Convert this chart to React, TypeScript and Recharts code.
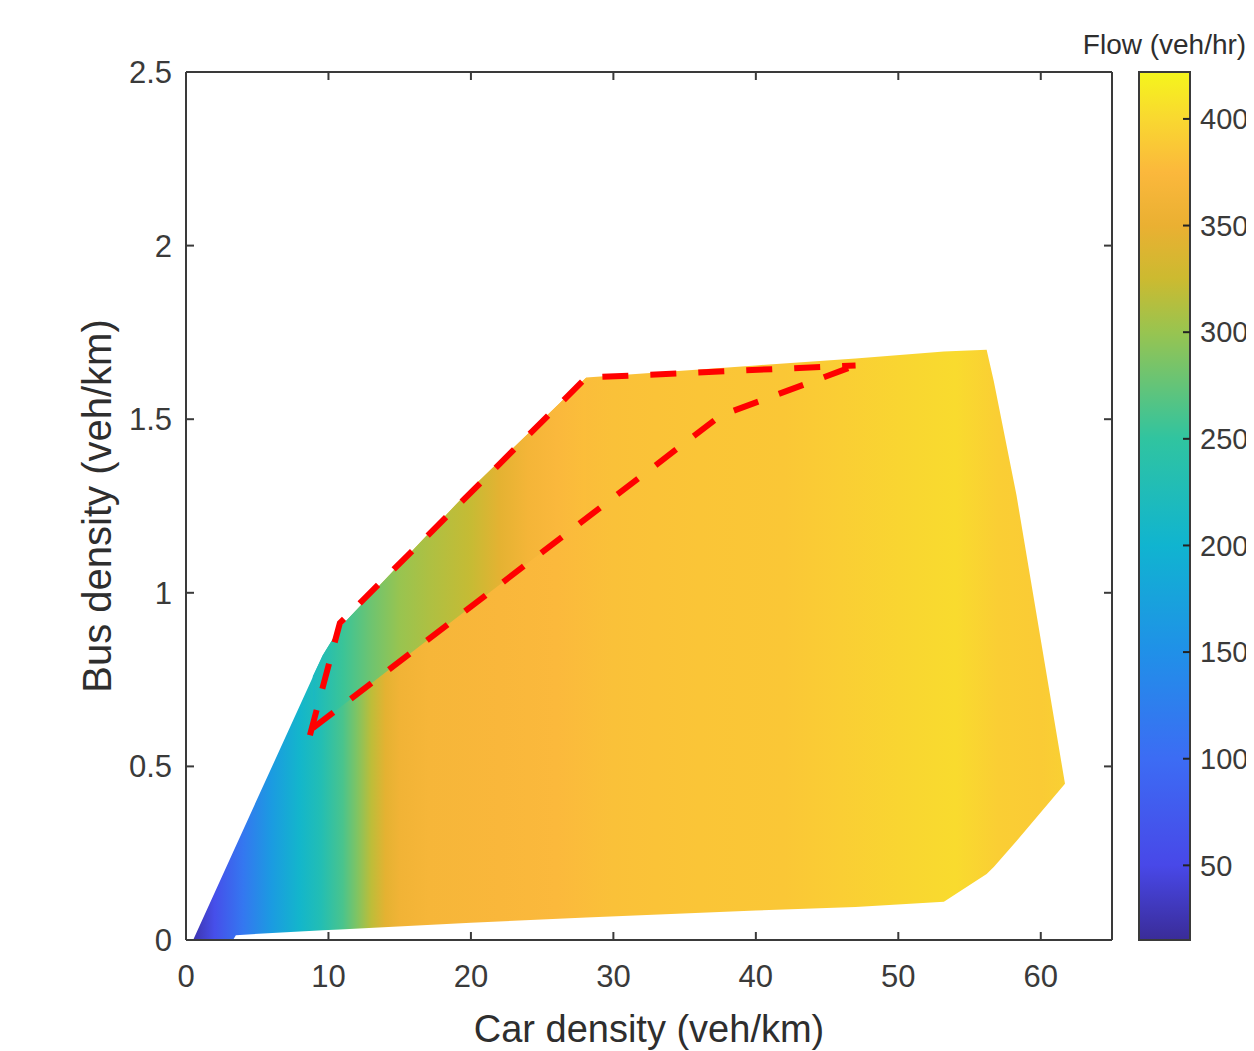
import { ComposedChart, Area, Line, XAxis, YAxis, ReferenceArea } from "recharts";

const carTicks = [0, 10, 20, 30, 40, 50, 60];
const busTicks = [0, 0.5, 1, 1.5, 2, 2.5];
const flowTicks = [50, 100, 150, 200, 250, 300, 350, 400];

// outline of the sampled region: car density with lower / upper bus density
const edgeCar = [0.5, 3.3, 3.5, 9.6, 10.8, 20, 28.1, 40, 47, 53.2, 56.2, 56.7, 58.3, 61.7];
const edgeLow = [0, 0, 0.014, 0.028, 0.03, 0.05, 0.065, 0.085, 0.095, 0.11, 0.19, 0.21, 0.285, 0.45];
const edgeHigh = [0, 0.253, 0.271, 0.82, 0.9, 1.3, 1.62, 1.655, 1.675, 1.695, 1.7, 1.61, 1.28, 0.45];

// flow (veh/hr) across car density, lower part of the region
const flowCar = [0.5, 2, 4, 6, 8, 9.5, 11, 12, 13, 14, 15, 17, 22, 26, 30, 36, 42, 46, 50, 54, 57, 60, 61.7];
const flowVal = [25, 60, 115, 165, 205, 230, 262, 288, 318, 345, 360, 368, 372, 376, 382, 385, 387, 392, 398, 402, 392, 390, 394];

// upper-left wedge (above the inner dashed line), greener
const wedgeCar = [8.9, 9.6, 10.8, 20, 28.1];
const wedgeLow = [0.61, 0.632, 0.67, 0.96, 1.215];
const wedgeHigh = [0.76, 0.82, 0.9, 1.3, 1.62];
const wedgeFlowCar = [8.9, 9.5, 11, 13, 15, 17, 20, 22, 24, 26, 28.1];
const wedgeFlowVal = [215, 228, 255, 280, 300, 310, 322, 345, 365, 374, 380];

// red dashed envelopes
const outerCar = [8.7, 10.8, 28.1, 47];
const outerBus = [0.59, 0.913, 1.62, 1.655];
const innerCar = [8.9, 20, 37.5, 47];
const innerBus = [0.61, 0.96, 1.51, 1.655];

// colormap (parula-like)
const cmapVal = [15, 50, 100, 150, 200, 250, 300, 325, 350, 375, 400, 422];
const cmapCol = ["#3a2c98", "#4848e8", "#3c6cf4", "#2090e8", "#10b4d0", "#30c4a0", "#98c450", "#ccba30", "#eab032", "#fbb83c", "#f9d830", "#f5f51c"];
const flowMin = 15;
const flowMax = 422;

const edgeData = edgeCar.map((car, i) => ({ car, range: [edgeLow[i], edgeHigh[i]] }));
const wedgeData = wedgeCar.map((car, i) => ({ car, range: [wedgeLow[i], wedgeHigh[i]] }));
const outerData = outerCar.map((car, i) => ({ car, bus: outerBus[i] }));
const innerData = innerCar.map((car, i) => ({ car, bus: innerBus[i] }));

function hexRgb(h: string) {
  return [1, 3, 5].map((k) => parseInt(h.slice(k, k + 2), 16));
}

function flowColor(v: number) {
  let i = 0;
  while (i < cmapVal.length - 2 && v > cmapVal[i + 1]) i++;
  const t = Math.max(0, Math.min(1, (v - cmapVal[i]) / (cmapVal[i + 1] - cmapVal[i])));
  const a = hexRgb(cmapCol[i]);
  const b = hexRgb(cmapCol[i + 1]);
  const c = a.map((x, k) => Math.round(x + (b[k] - x) * t));
  return `rgb(${c[0]},${c[1]},${c[2]})`;
}

function stops(cars: number[], vals: number[], lo: number, hi: number) {
  return cars.map((c, i) => (
    <stop key={i} offset={(c - lo) / (hi - lo)} stopColor={flowColor(vals[i])} />
  ));
}

const axisColor = "#3a3a3a";
const font = "'Liberation Sans', Arial, sans-serif";
const noLabel = () => "";

export default function App() {
  return (
    <div style={{ position: "relative", width: 1246, height: 1043, background: "#fff", fontFamily: font }}>
      <div style={{ position: "absolute", left: 0, top: 0 }}>
        <ComposedChart width={1246} height={1043} data={edgeData} margin={{ top: 0, right: 0, bottom: 0, left: 0 }}>
          <defs>
            <linearGradient id="flowFill" x1="0" y1="0" x2="1" y2="0">
              {stops(flowCar, flowVal, edgeCar[0], edgeCar[edgeCar.length - 1])}
            </linearGradient>
            <linearGradient id="wedgeFill" x1="0" y1="0" x2="1" y2="0">
              {stops(wedgeFlowCar, wedgeFlowVal, wedgeCar[0], wedgeCar[wedgeCar.length - 1])}
            </linearGradient>
          </defs>
          <XAxis
            dataKey="car"
            type="number"
            domain={[0, 65]}
            ticks={carTicks}
            interval={0}
            allowDataOverflow
            height={111}
            tickSize={-8}
            tickMargin={33}
            axisLine={{ stroke: axisColor, strokeWidth: 2 }}
            tickLine={{ stroke: axisColor, strokeWidth: 2 }}
            tick={{ fill: axisColor, fontSize: 31 }}
            label={{ value: "Car density (veh/km)", position: "insideBottom", offset: 9, fontSize: 38, fill: "#2e2e2e" }}
          />
          <XAxis
            xAxisId="top"
            dataKey="car"
            orientation="top"
            type="number"
            domain={[0, 65]}
            ticks={carTicks}
            interval={0}
            allowDataOverflow
            height={64}
            tickSize={-8}
            axisLine={{ stroke: axisColor, strokeWidth: 2 }}
            tickLine={{ stroke: axisColor, strokeWidth: 2 }}
            tick={{ fill: "none", fontSize: 1 }}
          />
          <YAxis
            type="number"
            domain={[0, 2.5]}
            ticks={busTicks}
            interval={0}
            allowDataOverflow
            width={178}
            tickSize={-8}
            tickMargin={22}
            axisLine={{ stroke: axisColor, strokeWidth: 2 }}
            tickLine={{ stroke: axisColor, strokeWidth: 2 }}
            tick={{ fill: axisColor, fontSize: 31 }}
            label={{ value: "Bus density (veh/km)", angle: -90, position: "center", fontSize: 40, fill: "#2e2e2e" }}
          />
          <YAxis
            yAxisId="right"
            orientation="right"
            type="number"
            domain={[0, 2.5]}
            ticks={busTicks}
            interval={0}
            allowDataOverflow
            width={142}
            tickSize={-8}
            axisLine={{ stroke: axisColor, strokeWidth: 2 }}
            tickLine={{ stroke: axisColor, strokeWidth: 2 }}
            tickFormatter={noLabel}
          />
          <Area
            dataKey="range"
            type="linear"
            stroke="none"
            fill="url(#flowFill)"
            fillOpacity={1}
            isAnimationActive={false}
            activeDot={false}
          />
          <Area
            data={wedgeData}
            dataKey="range"
            type="linear"
            stroke="none"
            fill="url(#wedgeFill)"
            fillOpacity={1}
            isAnimationActive={false}
            activeDot={false}
          />
          <Line
            data={outerData}
            dataKey="bus"
            type="linear"
            stroke="#ff0000"
            strokeWidth={6}
            strokeDasharray="26 22"
            dot={false}
            activeDot={false}
            isAnimationActive={false}
          />
          <Line
            data={innerData}
            dataKey="bus"
            type="linear"
            stroke="#ff0000"
            strokeWidth={6}
            strokeDasharray="26 22"
            dot={false}
            activeDot={false}
            isAnimationActive={false}
          />
        </ComposedChart>
      </div>

      {/* colorbar */}
      <div style={{ position: "absolute", left: 1040, top: 0 }}>
        <ComposedChart width={206} height={1043} data={[{ x: 0 }, { x: 1 }]} margin={{ top: 64, right: 0, bottom: 111, left: 91 }}>
          <defs>
            <linearGradient id="cbar" x1="0" y1="1" x2="0" y2="0">
              {cmapVal.map((v, i) => (
                <stop key={i} offset={(v - flowMin) / (flowMax - flowMin)} stopColor={cmapCol[i]} />
              ))}
            </linearGradient>
          </defs>
          <XAxis dataKey="x" type="number" domain={[0, 1]} hide />
          <YAxis
            orientation="right"
            type="number"
            domain={[flowMin, flowMax]}
            ticks={flowTicks}
            interval={0}
            allowDataOverflow
            width={64}
            tickSize={-7}
            tickMargin={17}
            axisLine={{ stroke: axisColor, strokeWidth: 2 }}
            tickLine={{ stroke: "#222", strokeWidth: 2 }}
            tick={{ fill: axisColor, fontSize: 29 }}
          />
          <ReferenceArea
            x1={0}
            x2={1}
            y1={flowMin}
            y2={flowMax}
            fill="url(#cbar)"
            fillOpacity={1}
            stroke={axisColor}
            strokeWidth={2}
            label={{ value: "Flow (veh/hr)", position: "top", offset: 18, fontSize: 28, fill: "#2e2e2e" }}
          />
        </ComposedChart>
      </div>
    </div>
  );
}
